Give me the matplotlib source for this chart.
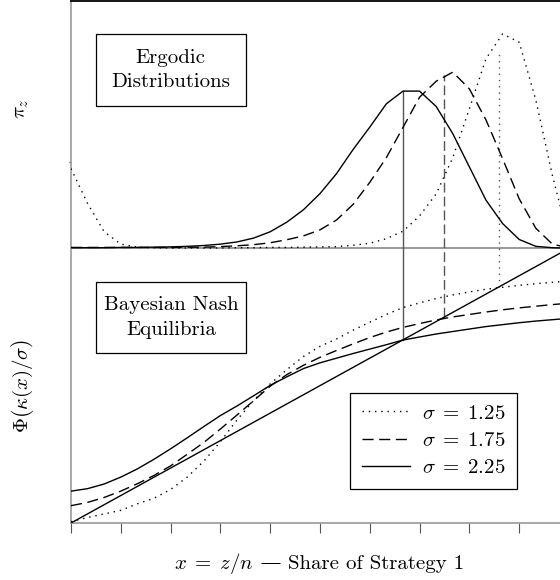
import matplotlib.pyplot as plt
from matplotlib.patches import Rectangle
import numpy as np

plt.rcParams['font.family'] = ['cmr10', 'DejaVu Serif']
plt.rcParams['mathtext.fontset'] = 'cm'
plt.rcParams['axes.formatter.use_mathtext'] = True

# grid x = z/n, n = 30
n = 30
x = np.arange(n + 1) / n

sigmas = ["1.25", "1.75", "2.25"]

# Bayesian Nash best response  Phi(kappa(x)/sigma)
phi_125 = [0.005, 0.020, 0.033, 0.046, 0.070, 0.090, 0.122, 0.167, 0.225, 0.296, 0.375,
           0.446, 0.506, 0.558, 0.606, 0.643, 0.670, 0.702, 0.731, 0.759, 0.784,
           0.801, 0.817, 0.830, 0.841, 0.851, 0.858, 0.865, 0.871, 0.876, 0.881]
phi_175 = [0.063, 0.075, 0.093, 0.116, 0.143, 0.173, 0.208, 0.250, 0.293, 0.342, 0.393,
           0.445, 0.498, 0.540, 0.574, 0.603, 0.628, 0.652, 0.675, 0.695, 0.712,
           0.726, 0.739, 0.750, 0.759, 0.768, 0.776, 0.783, 0.789, 0.795, 0.800]
phi_225 = [0.116, 0.125, 0.142, 0.167, 0.197, 0.232, 0.270, 0.310, 0.351, 0.391, 0.426,
           0.463, 0.501, 0.532, 0.562, 0.583, 0.600, 0.617, 0.633, 0.649, 0.666,
           0.677, 0.688, 0.697, 0.706, 0.715, 0.722, 0.729, 0.735, 0.740, 0.745]

# ergodic distributions pi_z (drawn height above the middle line)
pi_125 = [0.290, 0.163, 0.060, 0.015, 0.004, 0.002, 0.001, 0.001, 0.001, 0.001, 0.002,
          0.002, 0.003, 0.003, 0.004, 0.005, 0.006, 0.011, 0.018, 0.035, 0.062,
          0.118, 0.198, 0.330, 0.508, 0.690, 0.780, 0.750, 0.540, 0.265, 0.030]
pi_175 = [0.003, 0.003, 0.003, 0.003, 0.003, 0.003, 0.003, 0.004, 0.004, 0.006, 0.009,
          0.013, 0.020, 0.031, 0.045, 0.067, 0.103, 0.160, 0.240, 0.330, 0.440,
          0.550, 0.608, 0.641, 0.580, 0.467, 0.326, 0.180, 0.073, 0.015, 0.001]
pi_225 = [0.002, 0.002, 0.002, 0.003, 0.003, 0.004, 0.005, 0.007, 0.010, 0.015, 0.023,
          0.037, 0.060, 0.095, 0.140, 0.199, 0.272, 0.360, 0.441, 0.526, 0.572,
          0.572, 0.516, 0.417, 0.296, 0.175, 0.090, 0.032, 0.007, 0.002, 0.000]

# stable equilibria and the height of pi_z drawn there
eq_x = [0.859, 0.748, 0.667]
eq_top = [0.714, 0.629, 0.572]

phis = [phi_125, phi_175, phi_225]
pis = [pi_125, pi_175, pi_225]
styles = [(0, (1, 3.5)), (0, (8, 4)), '-']
vstyles = [(0, (1, 3.5)), (0, (7, 3)), '-']

fig = plt.figure(figsize=(5.6, 5.8), dpi=100)
ax = fig.add_axes([71 / 560, 57 / 580, 498 / 560, 522 / 580])
ax.set_xlim(0, 1)
ax.set_ylim(0, 1.9)

ax.axhline(1, color='#888888', lw=1.2, zorder=1)
ax.plot([0, 1], [0, 1], color='black', lw=1.0, zorder=3)

for i in range(3):
    ax.plot(x, phis[i], color='black', lw=1.0, linestyle=styles[i],
            label=r'$\sigma\;=\;' + sigmas[i] + '$', zorder=3)
    ax.plot(x, 1 + np.array(pis[i]), color='black', lw=1.0, linestyle=styles[i], zorder=3)
    ax.plot([eq_x[i], eq_x[i]], [eq_x[i], 1 + eq_top[i]], color='#555555', lw=1.0,
            linestyle=vstyles[i], zorder=2)

for s in ['left', 'bottom']:
    ax.spines[s].set_color('#999999')
    ax.spines[s].set_linewidth(1.2)
ax.spines['top'].set_linewidth(1.3)
ax.spines['right'].set_visible(False)

ax.set_xticks(np.arange(11) / 10)
ax.set_xticklabels([])
ax.tick_params(axis='x', direction='out', length=7, width=0.8, color='#555555')
ax.set_yticks([1.314])
ax.set_yticklabels([])
ax.tick_params(axis='y', direction='out', length=1.5, width=0.8, color='#333333')

boxes = [(0.9362, 0.7989, "Ergodic\nDistributions"),
         (0.4623, 0.3251, "Bayesian Nash\nEquilibria")]
for top, bot, txt in boxes:
    ax.add_patch(Rectangle((0.0502, bot), 0.3006, top - bot, transform=ax.transAxes,
                           fill=False, edgecolor='black', lw=0.9, zorder=4))
    ax.text(0.2005, (top + bot) / 2, txt, transform=ax.transAxes, ha='center',
            va='center', fontsize=15, linespacing=1.45, zorder=5)

leg = ax.legend(loc='center', bbox_to_anchor=(0.7285, 0.1575), fontsize=15,
                handlelength=2.3, handletextpad=0.6, labelspacing=0.42,
                borderpad=0.55, fancybox=False, framealpha=1, edgecolor='black')
leg.get_frame().set_linewidth(0.9)

fig.text(22 / 560, 1 - 109 / 580, r'$\pi_z$', rotation=90, ha='center', va='center',
         fontsize=15)
fig.text(22 / 560, 1 - 385.5 / 580, r'$\Phi\left(\kappa(x)/\sigma\right)$', rotation=90,
         ha='center', va='center', fontsize=15)

# x label in pieces: cmr10 has no usable em dash
parts = [(r'$x\;=\;z/n$', None), (' \u2014 ', 'DejaVu Serif'), ('Share of Strategy 1', None)]
renderer = fig.canvas.get_renderer()
ybase = 1 - 569 / 580
texts = []
xpos = 0
for s, fam in parts:
    kw = {'family': fam} if fam else {}
    t = fig.text(xpos / 560, ybase, s, ha='left', va='baseline', fontsize=15, **kw)
    bb = t.get_window_extent(renderer)
    xpos = bb.x1
    texts.append(t)
shift = 319 - xpos / 2
for t in texts:
    px, py = t.get_position()
    t.set_position((px + shift / 560, py))

fig.savefig('out.png', dpi=100)
